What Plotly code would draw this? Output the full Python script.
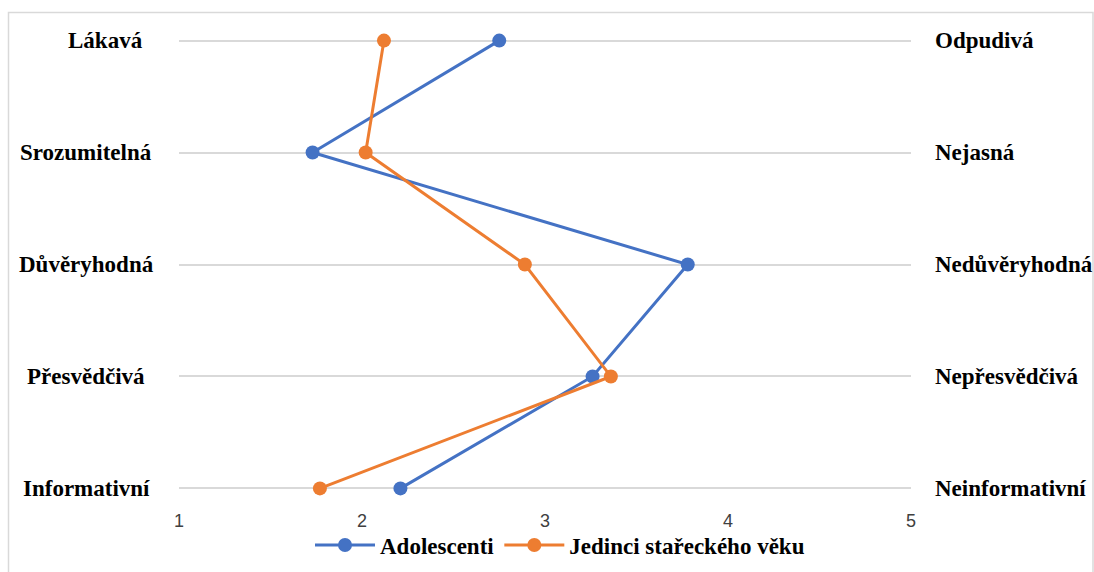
import plotly.graph_objects as go

# Semantic differential: left pole, right pole and mean scores (1-5 scale)
left_poles = ["Lákavá", "Srozumitelná", "Důvěryhodná", "Přesvědčivá", "Informativní"]
right_poles = ["Odpudivá", "Nejasná", "Nedůvěryhodná", "Nepřesvědčivá", "Neinformativní"]
adolescenti = [2.75, 1.73, 3.78, 3.26, 2.21]
jedinci = [2.12, 2.02, 2.89, 3.36, 1.77]
x_ticks = [1, 2, 3, 4, 5]

W, H = 1094, 572
ML, MR, MT, MB = 179, 183, 35, 78
PW = W - ML - MR
PH = H - MT - MB


def px_x(px):
    return (px - ML) / PW


def px_y(py):
    return (H - MB - py) / PH


BLUE = "#4472C4"
ORANGE = "#ED7D31"
GRID = "#D9D9D9"
SERIF = "Times New Roman, Liberation Serif, DejaVu Serif, serif"
LABEL_FONT = dict(family=SERIF, size=23, color="black", weight="bold")

fig = go.Figure()
fig.add_trace(go.Scatter(
    x=adolescenti, y=left_poles, name="Adolescenti", mode="lines+markers",
    line=dict(color=BLUE, width=3), marker=dict(color=BLUE, size=14),
    cliponaxis=False,
))
fig.add_trace(go.Scatter(
    x=jedinci, y=left_poles, name="Jedinci stařeckého věku", mode="lines+markers",
    line=dict(color=ORANGE, width=3), marker=dict(color=ORANGE, size=14),
    cliponaxis=False,
))

annotations = []
# left pole labels, centred in the left margin
left_centres = {"Lákavá": 105}
for lab in left_poles:
    annotations.append(dict(
        text=lab, xref="paper", yref="y", x=px_x(left_centres.get(lab, 86)), y=lab,
        xanchor="center", yanchor="middle", showarrow=False, font=LABEL_FONT,
    ))
# right pole labels, left-aligned after the plot
for lab, row in zip(right_poles, left_poles):
    annotations.append(dict(
        text=lab, xref="paper", yref="y", x=px_x(933), y=row,
        xanchor="left", yanchor="middle", showarrow=False, font=LABEL_FONT,
    ))

# chart frame (top, left and right edges)
frame = dict(type="rect", xref="paper", yref="paper",
             x0=px_x(8.5), x1=px_x(1093), y0=px_y(580), y1=px_y(12.5),
             line=dict(color=GRID, width=1.5), fillcolor="rgba(0,0,0,0)", layer="below")

fig.update_layout(
    width=W, height=H,
    margin=dict(l=ML, r=MR, t=MT, b=MB, autoexpand=False),
    paper_bgcolor="white", plot_bgcolor="white",
    showlegend=True,
    legend=dict(
        orientation="h", x=px_x(560), y=px_y(545), xanchor="center", yanchor="middle",
        font=LABEL_FONT, itemwidth=60, traceorder="normal",
        bgcolor="rgba(0,0,0,0)",
    ),
    xaxis=dict(
        range=[1, 5], tickvals=x_ticks, showgrid=False, zeroline=False, showline=False,
        ticks="", ticklabelstandoff=14,
        tickfont=dict(family="Liberation Sans, Arial, sans-serif", size=18, color="#404040"),
    ),
    yaxis=dict(
        type="category", categoryorder="array", categoryarray=left_poles[::-1],
        range=[-0.05, 4.05], showticklabels=False, ticks="",
        showgrid=True, gridcolor=GRID, gridwidth=2, zeroline=False, showline=False,
    ),
    annotations=annotations,
    shapes=[frame],
)

fig.write_html("out.html")
